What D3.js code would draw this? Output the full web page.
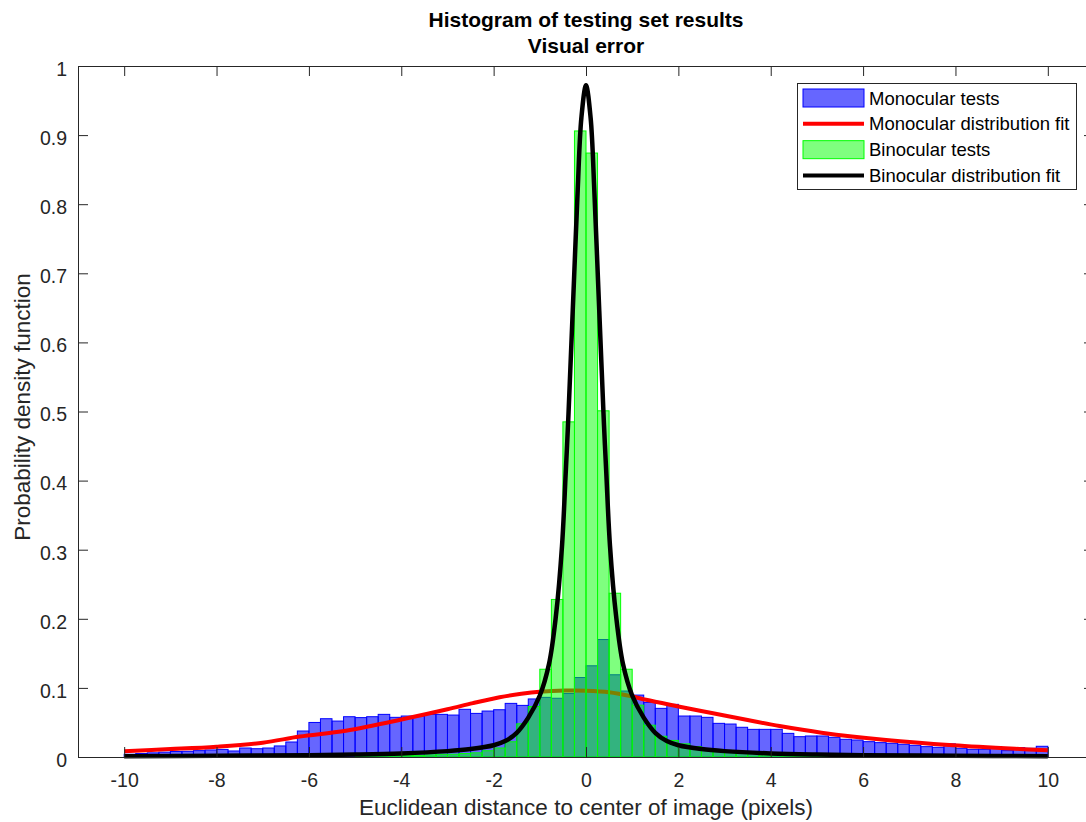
<!DOCTYPE html>
<html>
<head>
<meta charset="utf-8">
<script src="https://cdn.jsdelivr.net/npm/d3@7"></script>
<style>
  body { margin: 0; background: #fff; }
  svg { display: block; }
  text { font-family: "Liberation Sans", Arial, Helvetica, sans-serif; }
</style>
</head>
<body>
<svg id="chart" width="1086" height="822"></svg>
<script>
// Histogram bins: 80 bins of width 0.25 spanning [-10, 10]
const binWidth = 0.25;
const binEdges = d3.range(80).map(i => -10 + i * binWidth);

// Normalised histogram heights (pdf) for the monocular tests
const monocularDensity = [
  0.004, 0.005, 0.006, 0.007, 0.008, 0.0082, 0.0092, 0.0102, 0.011, 0.0087,
  0.013, 0.012, 0.013, 0.016, 0.0217, 0.0376, 0.050, 0.0554, 0.052, 0.0583,
  0.057, 0.0583, 0.0617, 0.0574, 0.0593, 0.0593, 0.0617, 0.0617, 0.0607, 0.069,
  0.0631, 0.0665, 0.0684, 0.0776, 0.0747, 0.084, 0.0863, 0.085, 0.092, 0.115,
  0.132, 0.170, 0.119, 0.0955, 0.0896, 0.079, 0.0704, 0.0762, 0.0593, 0.0593,
  0.0574, 0.0487, 0.0477, 0.043, 0.040, 0.040, 0.040, 0.0342, 0.0294, 0.0304,
  0.0304, 0.0285, 0.0256, 0.0246, 0.0222, 0.0208, 0.0198, 0.0184, 0.0169, 0.015,
  0.014, 0.019, 0.0126, 0.0111, 0.0111, 0.015, 0.0092, 0.0136, 0.0126, 0.0155
];

// Normalised histogram heights (pdf) for the binocular tests
const binocularDensity = [
  0, 0, 0, 0, 0, 0, 0, 0, 0, 0,
  0, 0, 0, 0, 0, 0, 0, 0, 0, 0,
  0.002, 0.002, 0.002, 0.002, 0.002, 0.002, 0.003, 0.004, 0.004, 0.005,
  0.006, 0.009, 0.013, 0.022, 0.048, 0.073, 0.127, 0.228, 0.485, 0.906,
  0.874, 0.501, 0.237, 0.127, 0.075, 0.046, 0.030, 0.024, 0.019, 0.015,
  0.012, 0.009, 0.007, 0.006, 0.005, 0.003, 0.003, 0.002, 0.002, 0.002,
  0.002, 0, 0, 0, 0, 0, 0, 0, 0, 0,
  0, 0, 0, 0, 0, 0, 0, 0, 0, 0
];

// Fitted density curve, monocular
const monoFitX = [-10, -9, -8, -7, -6.2, -5.2, -3.9, -3, -2.45, -1.87, -1.4, -1.0, -0.45, 0, 0.5,
  1.01, 1.3, 2, 2.75, 3.5, 4.19, 5.1, 6.5, 7.95, 9.39, 10];
const monoFitY = [0.0085, 0.0115, 0.015, 0.0207, 0.0296, 0.038, 0.0556, 0.069, 0.078, 0.0865,
  0.0915, 0.0945, 0.0962, 0.096, 0.0938, 0.0875, 0.0828, 0.0732, 0.0632, 0.0535, 0.0448,
  0.0352, 0.0246, 0.017, 0.0116, 0.0097];

// Fitted density curve, binocular
const binoFitX = [-10, -8, -6, -5, -4, -3, -2.5, -2, -1.75, -1.5, -1.25, -1, -0.8, -0.65,
  -0.52, -0.44, -0.39, -0.34, -0.26, -0.18, -0.1, 0, 0.1, 0.18, 0.26, 0.34, 0.39, 0.44,
  0.52, 0.65, 0.8, 1, 1.25, 1.5, 1.75, 2, 2.5, 3, 4, 5, 6, 8, 10];
const binoFitY = [0.0012, 0.0018, 0.0027, 0.0036, 0.0052, 0.0085, 0.0115, 0.017, 0.023, 0.035,
  0.057, 0.089, 0.135, 0.205, 0.305, 0.41, 0.48, 0.56, 0.69, 0.82, 0.925, 0.972, 0.925,
  0.82, 0.69, 0.56, 0.48, 0.41, 0.305, 0.205, 0.135, 0.089, 0.057, 0.035, 0.023, 0.017,
  0.0115, 0.0085, 0.0052, 0.0036, 0.0027, 0.0018, 0.0012];

const xTicks = [-10, -8, -6, -4, -2, 0, 2, 4, 6, 8, 10];
const yTicks = [0, 0.1, 0.2, 0.3, 0.4, 0.5, 0.6, 0.7, 0.8, 0.9, 1];

const legendItems = [
  { label: "Monocular tests", kind: "patch", color: "#0000ff", alpha: 0.6 },
  { label: "Monocular distribution fit", kind: "line", color: "#ff0000" },
  { label: "Binocular tests", kind: "patch", color: "#00ff00", alpha: 0.5 },
  { label: "Binocular distribution fit", kind: "line", color: "#000000" }
];

const svg = d3.select("#chart");
const plot = { left: 78, right: 1094, top: 66, bottom: 757 };
const axisColor = "#262626";

const x = d3.scaleLinear().domain([-11, 11]).range([plot.left, plot.right]);
const y = d3.scaleLinear().domain([0, 1]).range([plot.bottom, plot.top]);

const g = svg.append("g");

// Monocular histogram
g.append("g").selectAll("rect")
  .data(monocularDensity.map((v, i) => ({ x0: binEdges[i], v })))
  .join("rect")
  .attr("x", d => x(d.x0))
  .attr("width", d => x(d.x0 + binWidth) - x(d.x0))
  .attr("y", d => y(d.v))
  .attr("height", d => y(0) - y(d.v))
  .attr("fill", "#0000ff").attr("fill-opacity", 0.6)
  .attr("stroke", "#0000ff").attr("stroke-width", 1);

const line = d3.line().x(d => x(d[0])).y(d => y(d[1])).curve(d3.curveCatmullRom.alpha(0.5));

// Monocular fit
g.append("path")
  .datum(monoFitX.map((v, i) => [v, monoFitY[i]]))
  .attr("d", line)
  .attr("fill", "none").attr("stroke", "#ff0000").attr("stroke-width", 4)
  .attr("stroke-linejoin", "round");

// Binocular histogram
g.append("g").selectAll("rect")
  .data(binocularDensity.map((v, i) => ({ x0: binEdges[i], v })).filter(d => d.v > 0))
  .join("rect")
  .attr("x", d => x(d.x0))
  .attr("width", d => x(d.x0 + binWidth) - x(d.x0))
  .attr("y", d => y(d.v))
  .attr("height", d => y(0) - y(d.v))
  .attr("fill", "#00ff00").attr("fill-opacity", 0.5)
  .attr("stroke", "#00ff00").attr("stroke-width", 1);

// Binocular fit
g.append("path")
  .datum(binoFitX.map((v, i) => [v, binoFitY[i]]))
  .attr("d", line)
  .attr("fill", "none").attr("stroke", "#000000").attr("stroke-width", 4.5)
  .attr("stroke-linejoin", "round");

// Axes box with inward ticks
function styleAxis(sel) {
  sel.selectAll(".domain").attr("stroke", axisColor);
  sel.selectAll(".tick line").attr("stroke", axisColor);
  sel.selectAll(".tick text")
    .attr("fill", axisColor)
    .style("font-family", '"Liberation Sans", Arial, Helvetica, sans-serif')
    .style("font-size", "19.5px");
}

const fmt = d => String(d);

svg.append("g")
  .attr("transform", `translate(0,${plot.bottom})`)
  .call(d3.axisBottom(x).tickValues(xTicks).tickFormat(fmt).tickSizeInner(-10).tickSizeOuter(0).tickPadding(16))
  .call(styleAxis);

svg.append("g")
  .attr("transform", `translate(0,${plot.top})`)
  .call(d3.axisTop(x).tickValues(xTicks).tickFormat("").tickSizeInner(-10).tickSizeOuter(0))
  .call(styleAxis);

svg.append("g")
  .attr("transform", `translate(${plot.left},0)`)
  .call(d3.axisLeft(y).tickValues(yTicks).tickFormat(fmt).tickSizeInner(-10).tickSizeOuter(0).tickPadding(11))
  .call(styleAxis)
  .selectAll(".tick text").attr("dy", "0.48em");

svg.append("g")
  .attr("transform", `translate(${plot.right},0)`)
  .call(d3.axisRight(y).tickValues(yTicks).tickFormat("").tickSizeInner(-10).tickSizeOuter(0))
  .call(styleAxis);

// Titles and axis labels
const cx = (plot.left + plot.right) / 2;
svg.append("text").attr("x", cx).attr("y", 27).attr("text-anchor", "middle")
  .style("font-size", "21px").style("font-weight", "bold").attr("fill", "#000")
  .text("Histogram of testing set results");
svg.append("text").attr("x", cx).attr("y", 53).attr("text-anchor", "middle")
  .style("font-size", "21px").style("font-weight", "bold").attr("fill", "#000")
  .text("Visual error");

svg.append("text").attr("x", cx).attr("y", 815).attr("text-anchor", "middle")
  .style("font-size", "22.5px").attr("fill", axisColor)
  .text("Euclidean distance to center of image (pixels)");

svg.append("text")
  .attr("transform", `translate(30,407) rotate(-90)`)
  .attr("text-anchor", "middle")
  .style("font-size", "22.5px").attr("fill", axisColor)
  .text("Probability density function");

// Legend
const legend = svg.append("g");
legend.append("rect")
  .attr("x", 797.5).attr("y", 83.5).attr("width", 279).attr("height", 106)
  .attr("fill", "#fff").attr("stroke", axisColor).attr("stroke-width", 1);

const rowY = d3.scalePoint().domain(legendItems.map(d => d.label)).range([98, 175.5]);
legendItems.forEach(item => {
  const cy = rowY(item.label);
  if (item.kind === "patch") {
    legend.append("rect")
      .attr("x", 803).attr("y", cy - 9).attr("width", 61).attr("height", 18)
      .attr("fill", item.color).attr("fill-opacity", item.alpha)
      .attr("stroke", item.color).attr("stroke-width", 1);
  } else {
    legend.append("line")
      .attr("x1", 803).attr("x2", 864).attr("y1", cy).attr("y2", cy)
      .attr("stroke", item.color).attr("stroke-width", 4);
  }
  legend.append("text")
    .attr("x", 869).attr("y", cy).attr("dy", "0.36em")
    .style("font-size", "18.5px").attr("fill", "#000")
    .text(item.label);
});
</script>
</body>
</html>
